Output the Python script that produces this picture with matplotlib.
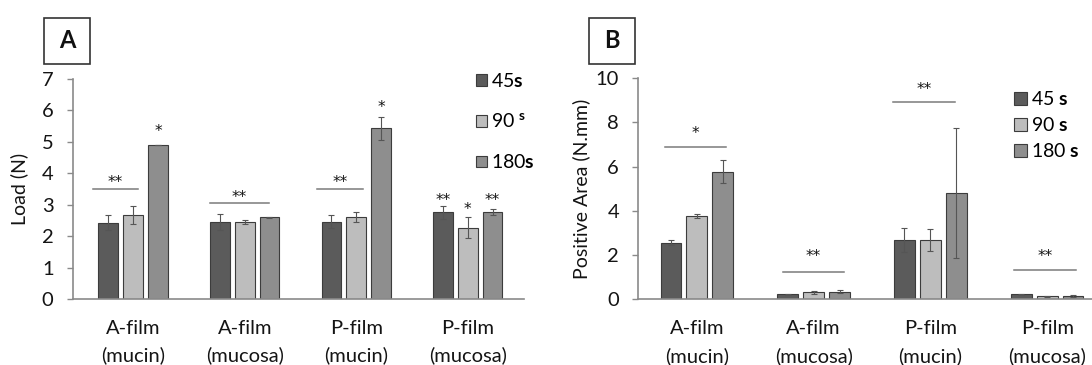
import numpy as np
import matplotlib
matplotlib.use('Agg')
import matplotlib.pyplot as plt
from matplotlib.patches import Rectangle

plt.rcParams['font.family'] = ['Lato', 'DejaVu Sans']
plt.rcParams['mathtext.fontset'] = 'custom'
plt.rcParams['mathtext.rm'] = 'Lato'
plt.rcParams['mathtext.bf'] = 'Lato:bold'

# Категорії та серії
groups = ['A-film\n(mucin)', 'A-film\n(mucosa)', 'P-film\n(mucin)', 'P-film\n(mucosa)']
colors = ['#5b5b5b', '#bdbdbd', '#8e8e8e']

# Панель A: Load (N)
load_45 = [2.43, 2.45, 2.46, 2.76]
load_45_err = [0.24, 0.25, 0.21, 0.21]
load_90 = [2.67, 2.45, 2.61, 2.27]
load_90_err = [0.29, 0.05, 0.17, 0.33]
load_180 = [4.90, 2.60, 5.43, 2.76]
load_180_err = [0.01, 0.01, 0.36, 0.10]
load_labels = ['45$\\mathbf{s}$', '90 $^{\\mathbf{s}}$', '180$\\mathbf{s}$']

# Панель B: Positive Area (N.mm)
area_45 = [2.56, 0.22, 2.68, 0.22]
area_45_err = [0.12, 0.02, 0.56, 0.03]
area_90 = [3.77, 0.32, 2.68, 0.14]
area_90_err = [0.09, 0.07, 0.50, 0.02]
area_180 = [5.77, 0.35, 4.82, 0.15]
area_180_err = [0.52, 0.07, 2.93, 0.03]
area_labels = ['45 $\\mathbf{s}$', '90 $\\mathbf{s}$', '180 $\\mathbf{s}$']

# Позначки значущості: (група, від, до, висота лінії, висота зірок, текст)
load_sig_lines = [(0, -0.36, 0.04, 3.49, 3.85, '**'),
                  (1, -0.31, 0.22, 3.04, 3.37, '**'),
                  (2, -0.35, 0.06, 3.49, 3.85, '**')]
# (група, стовпчик, висота, текст)
load_sig_bars = [(0, 2, 5.47, '*'), (2, 2, 6.23, '*'),
                 (3, 0, 3.25, '**'), (3, 1, 2.97, '*'), (3, 2, 3.25, '**')]
area_sig_lines = [(0, -0.27, 0.25, 6.88, 7.69, '*'),
                  (1, -0.26, 0.26, 1.25, 2.10, '**'),
                  (2, -0.32, 0.21, 8.91, 9.69, '**'),
                  (3, -0.28, 0.25, 1.32, 2.10, '**')]
area_sig_bars = []

step = 0.222
width = 0.178
axis_gray = '#8a8a8a'
text_col = '#141414'
star_font = ['DejaVu Sans']


def draw_panel(ax, series, errors, labels, ylabel, ymax, xlim,
               sig_lines, sig_bars, legend_anchor, handle, spacing, ypix):
    x = np.arange(len(groups))
    for i, (vals, errs) in enumerate(zip(series, errors)):
        ax.bar(x + (i - 1) * step, vals, width, color=colors[i],
               edgecolor='#3c3c3c', linewidth=0.8, label=labels[i], zorder=2)
        ax.errorbar(x + (i - 1) * step, vals, yerr=errs, fmt='none',
                    ecolor='#555555', elinewidth=0.8, capsize=2, capthick=0.8,
                    zorder=3)
    # зірочки у DejaVu мають центр вище середини рядка, тому трохи опускаємо
    shift = 4 / ypix
    for g, x0, x1, yl, ys, txt in sig_lines:
        ax.plot([g + x0, g + x1], [yl, yl], color='#7a7a7a', lw=1.1)
        ax.text(g + (x0 + x1) / 2, ys - shift, txt, ha='center', va='center',
                fontsize=11, color=text_col, family=star_font)
    for g, b, ys, txt in sig_bars:
        ax.text(g + (b - 1) * step, ys - shift, txt, ha='center', va='center',
                fontsize=11, color=text_col, family=star_font)

    ax.set_xlim(*xlim)
    ax.set_ylim(0, ymax)
    ax.set_xticks(x)
    ax.set_xticklabels(groups, fontsize=14.5, color=text_col)
    for t in ax.get_xticklabels():
        t.set_linespacing(1.65)
    ax.tick_params(axis='x', length=0, pad=15)
    ax.tick_params(axis='y', length=4, width=1, color=axis_gray,
                   labelsize=14.5, labelcolor=text_col, pad=10)
    ax.set_ylabel(ylabel, fontsize=14, color=text_col)
    for s in ['top', 'right']:
        ax.spines[s].set_visible(False)
    for s in ['left', 'bottom']:
        ax.spines[s].set_color(axis_gray)
        ax.spines[s].set_linewidth(1.2)
    ax.legend(loc='upper left', bbox_to_anchor=legend_anchor,
              bbox_transform=fig.transFigure, frameon=False, fontsize=14,
              handlelength=handle, handleheight=handle, handletextpad=0.2,
              labelspacing=spacing, borderpad=0, borderaxespad=0)


fig = plt.figure(figsize=(10.92, 3.65), dpi=100)
ax_a = fig.add_axes([0.0668, 0.1808, 0.4126, 0.6027])
ax_b = fig.add_axes([0.5847, 0.1800, 0.4277, 0.6055])

draw_panel(ax_a, [load_45, load_90, load_180],
           [load_45_err, load_90_err, load_180_err], load_labels,
           'Load (N)', 7, (-0.54, 3.5), load_sig_lines, load_sig_bars,
           (476 / 1092, 1 - 72 / 365), 0.55, 1.15, 220 / 7)
ax_a.set_yticks(range(0, 8))
ax_a.yaxis.set_label_coords(-0.1, 0.5)

draw_panel(ax_b, [area_45, area_90, area_180],
           [area_45_err, area_90_err, area_180_err], area_labels,
           'Positive Area (N.mm)', 10, (-0.5, 3.5), area_sig_lines, area_sig_bars,
           (1014 / 1092, 1 - 90 / 365), 0.68, 0.42, 221 / 10)

ax_b.set_yticks(range(0, 11, 2))

# Рамки з літерами панелей
for lab, x0 in [('A', 44), ('B', 589)]:
    fig.patches.append(Rectangle((x0 / 1092, 1 - 64 / 365), 46 / 1092, 46 / 365,
                                 transform=fig.transFigure, fill=False,
                                 edgecolor='#333333', linewidth=1.2))
    fig.text((x0 + 23) / 1092, 1 - 41 / 365, lab, ha='center', va='center',
             fontsize=17, fontweight='bold', color='#111111')

fig.savefig('out.png', dpi=100)
